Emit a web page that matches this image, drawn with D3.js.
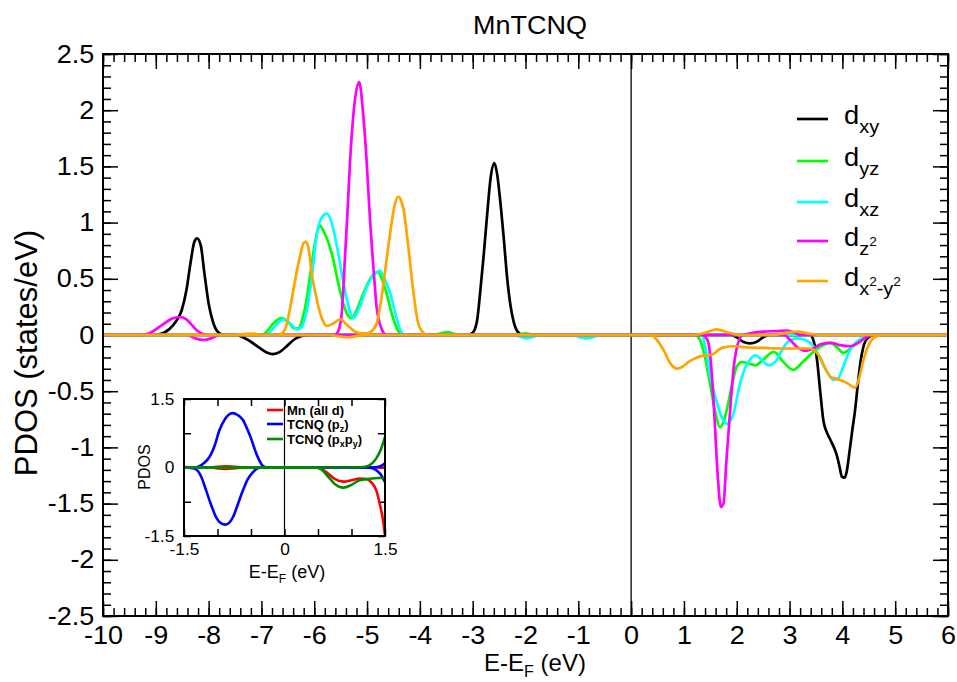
<!DOCTYPE html>
<html><head><meta charset="utf-8">
<script src="https://cdn.jsdelivr.net/npm/d3@7"></script>
<style>
body{margin:0;background:#fff}
svg{display:block}
text{font-family:"Liberation Sans",Arial,Helvetica,sans-serif;fill:#000}
</style>
</head><body>
<svg id="c" width="957" height="682"></svg>
<script>
// ---------- tick labels ----------
const xTicks = [-10,-9,-8,-7,-6,-5,-4,-3,-2,-1,0,1,2,3,4,5,6];
const yTicks = [-2.5,-2,-1.5,-1,-0.5,0,0.5,1,1.5,2,2.5];
const insetXTicks = [-1.5,-1,-0.5,0,0.5,1,1.5];
const insetXLabels = [-1.5,0,1.5];
const insetYTicks = [-1.5,-0.75,0,0.75,1.5];
const insetYLabels = [-1.5,0,1.5];

// ---------- series (E - E_F [eV], PDOS [states/eV]) ----------
const seriesNames = ["dxy","dyz","dxz","dz2","dx2y2"];
const seriesColors = ["#000000","#00ff00","#00ffff","#ff00ff","#ffa500"];

const dxyUp = [[-10,0],[-9.05,0],[-8.9,0.01],[-8.75,0.05],[-8.62,0.12],[-8.51,0.22],[-8.42,0.4],[-8.34,0.65],[-8.27,0.83],[-8.22,0.86],[-8.15,0.8],[-8.08,0.55],[-8.0,0.28],[-7.92,0.12],[-7.83,0.03],[-7.7,0],[-3.1,0],[-3.0,0.02],[-2.92,0.12],[-2.86,0.37],[-2.79,0.72],[-2.73,1.05],[-2.66,1.4],[-2.59,1.53],[-2.54,1.44],[-2.48,1.2],[-2.41,0.85],[-2.35,0.52],[-2.28,0.25],[-2.22,0.11],[-2.15,0.03],[-2.05,0],[6,0]];
const dxyDown = [[-10,0],[-7.5,0],[-7.35,-0.02],[-7.2,-0.06],[-7.05,-0.11],[-6.9,-0.155],[-6.78,-0.17],[-6.65,-0.15],[-6.5,-0.09],[-6.38,-0.04],[-6.25,-0.01],[-6.1,0],[1.88,0],[2.0,-0.02],[2.12,-0.06],[2.25,-0.075],[2.38,-0.06],[2.5,-0.02],[2.63,0],[3.39,0],[3.46,-0.06],[3.52,-0.22],[3.58,-0.5],[3.64,-0.76],[3.7,-0.86],[3.77,-0.93],[3.84,-1.0],[3.9,-1.08],[3.95,-1.18],[3.99,-1.26],[4.04,-1.27],[4.08,-1.22],[4.14,-1.02],[4.19,-0.84],[4.24,-0.67],[4.29,-0.45],[4.34,-0.25],[4.39,-0.12],[4.43,-0.06],[4.53,-0.01],[4.62,0],[6,0]];

const dyzUp = [[-10,0],[-7.0,0],[-6.9,0.03],[-6.78,0.1],[-6.62,0.15],[-6.48,0.11],[-6.38,0.06],[-6.3,0.06],[-6.22,0.15],[-6.15,0.3],[-6.08,0.52],[-6.0,0.78],[-5.93,0.94],[-5.89,0.97],[-5.82,0.92],[-5.73,0.82],[-5.64,0.67],[-5.55,0.47],[-5.45,0.28],[-5.37,0.18],[-5.29,0.15],[-5.2,0.22],[-5.07,0.37],[-4.95,0.49],[-4.85,0.55],[-4.79,0.56],[-4.72,0.5],[-4.63,0.37],[-4.55,0.22],[-4.47,0.1],[-4.4,0.03],[-4.3,0],[-3.75,0],[-3.6,0.015],[-3.48,0.025],[-3.35,0.01],[-3.2,0],[-2.15,0],[-2.0,0.015],[-1.85,0],[6,0]];
const dyzDown = [[-10,0],[1.2,0],[1.3,-0.04],[1.4,-0.2],[1.5,-0.45],[1.6,-0.7],[1.68,-0.82],[1.76,-0.76],[1.85,-0.58],[1.93,-0.4],[2.0,-0.28],[2.1,-0.24],[2.2,-0.25],[2.35,-0.27],[2.5,-0.22],[2.7,-0.15],[2.9,-0.25],[3.07,-0.31],[3.25,-0.24],[3.45,-0.15],[3.6,-0.1],[3.77,-0.07],[3.9,-0.11],[4.02,-0.16],[4.15,-0.12],[4.3,-0.06],[4.45,-0.01],[4.55,0],[6,0]];

const dxzUp = [[-10,0],[-6.95,0],[-6.85,0.02],[-6.72,0.09],[-6.58,0.14],[-6.45,0.1],[-6.32,0.05],[-6.24,0.07],[-6.15,0.2],[-6.05,0.5],[-5.95,0.9],[-5.85,1.05],[-5.76,1.08],[-5.67,1.0],[-5.57,0.79],[-5.48,0.55],[-5.38,0.31],[-5.3,0.18],[-5.26,0.15],[-5.15,0.24],[-5.0,0.43],[-4.88,0.53],[-4.75,0.57],[-4.66,0.49],[-4.56,0.37],[-4.48,0.22],[-4.41,0.1],[-4.32,0.01],[-4.2,0],[6,0]];
const dxzDown = [[-10,0],[-2.25,0],[-2.1,-0.015],[-1.97,-0.03],[-1.85,-0.015],[-1.7,0],[-1.1,0],[-0.97,-0.02],[-0.85,-0.03],[-0.72,-0.02],[-0.6,0],[1.34,0],[1.42,-0.15],[1.5,-0.37],[1.6,-0.56],[1.69,-0.7],[1.76,-0.77],[1.81,-0.79],[1.87,-0.77],[1.94,-0.7],[2.02,-0.52],[2.1,-0.37],[2.18,-0.27],[2.25,-0.22],[2.35,-0.18],[2.47,-0.22],[2.6,-0.27],[2.76,-0.22],[2.85,-0.14],[2.95,-0.07],[3.14,-0.03],[3.27,-0.04],[3.45,-0.1],[3.55,-0.18],[3.64,-0.27],[3.74,-0.35],[3.83,-0.4],[3.93,-0.38],[4.01,-0.29],[4.09,-0.19],[4.18,-0.11],[4.27,-0.06],[4.46,-0.01],[4.58,0],[6,0]];

const dz2Up = [[-10,0],[-9.3,0],[-9.15,0.01],[-9.0,0.05],[-8.85,0.1],[-8.7,0.145],[-8.55,0.16],[-8.42,0.14],[-8.32,0.09],[-8.22,0.04],[-8.12,0.01],[-8.0,0],[-5.62,0],[-5.55,0.03],[-5.48,0.19],[-5.42,0.67],[-5.37,1.1],[-5.32,1.56],[-5.24,2.05],[-5.15,2.25],[-5.08,2.0],[-5.01,1.56],[-4.96,1.15],[-4.91,0.79],[-4.86,0.48],[-4.82,0.25],[-4.77,0.12],[-4.72,0.05],[-4.64,0],[2.1,0],[2.3,0.02],[2.5,0.03],[2.75,0.035],[2.95,0.04],[3.1,0.02],[3.2,0],[6,0]];
const dz2Down = [[-10,0],[-8.4,0],[-8.25,-0.03],[-8.1,-0.045],[-7.95,-0.03],[-7.8,0],[1.35,0],[1.45,-0.05],[1.52,-0.3],[1.58,-0.75],[1.64,-1.25],[1.7,-1.53],[1.75,-1.5],[1.8,-1.15],[1.87,-0.7],[1.94,-0.3],[2.02,-0.08],[2.12,0],[2.9,0],[3.0,-0.04],[3.15,-0.11],[3.3,-0.14],[3.45,-0.12],[3.6,-0.08],[3.78,-0.07],[3.95,-0.09],[4.15,-0.1],[4.3,-0.07],[4.45,-0.02],[4.6,0],[6,0]];

const dx2y2Up = [[-10,0],[-7.5,0],[-7.3,0.01],[-7.15,0.012],[-7.0,0],[-6.7,0],[-6.6,0.02],[-6.52,0.1],[-6.43,0.31],[-6.35,0.52],[-6.27,0.7],[-6.2,0.82],[-6.16,0.83],[-6.1,0.75],[-6.05,0.55],[-5.98,0.38],[-5.92,0.25],[-5.84,0.13],[-5.76,0.08],[-5.65,0.1],[-5.51,0.14],[-5.38,0.09],[-5.26,0.04],[-5.12,0.015],[-5.0,0.015],[-4.9,0.04],[-4.82,0.1],[-4.72,0.35],[-4.63,0.67],[-4.55,0.95],[-4.47,1.17],[-4.41,1.23],[-4.36,1.2],[-4.31,1.12],[-4.22,0.79],[-4.12,0.37],[-4.03,0.1],[-3.95,0.03],[-3.88,0],[1.2,0],[1.4,0.02],[1.62,0.05],[1.85,0.02],[2.05,0],[2.7,0],[2.9,0.015],[3.14,0.03],[3.4,0.01],[3.6,0],[6,0]];
const dx2y2Down = [[-10,0],[-5.7,0],[-5.5,-0.015],[-5.35,-0.02],[-5.2,-0.01],[-5.05,0],[0.36,0],[0.48,-0.04],[0.61,-0.13],[0.74,-0.25],[0.87,-0.3],[0.98,-0.28],[1.09,-0.24],[1.2,-0.21],[1.31,-0.19],[1.45,-0.18],[1.56,-0.17],[1.66,-0.13],[1.75,-0.11],[1.94,-0.1],[2.19,-0.11],[2.5,-0.115],[2.82,-0.12],[3.1,-0.12],[3.39,-0.12],[3.5,-0.15],[3.58,-0.2],[3.67,-0.29],[3.77,-0.37],[3.96,-0.4],[4.1,-0.43],[4.24,-0.47],[4.32,-0.38],[4.4,-0.22],[4.47,-0.12],[4.53,-0.06],[4.65,-0.01],[4.78,0],[6,0]];

// ---------- inset series ----------
const insetNames = ["Mn (all d)","TCNQ (pz)","TCNQ (pxpy)"];
const insetColors = ["#ff0000","#0000ff","#008b00"];
const mnUp = [[-1.5,0],[-1.1,0],[-1.0,0.015],[-0.88,0.025],[-0.75,0.015],[-0.6,0],[1.5,0]];
const mnDown = [[-1.5,0],[-1.1,0],[-1.0,-0.02],[-0.88,-0.03],[-0.75,-0.02],[-0.6,0],[0.45,0],[0.55,-0.03],[0.65,-0.13],[0.75,-0.25],[0.88,-0.31],[1.0,-0.28],[1.12,-0.24],[1.22,-0.25],[1.3,-0.33],[1.37,-0.5],[1.43,-0.85],[1.47,-1.15],[1.5,-1.5]];
const pzUp = [[-1.5,0.01],[-1.35,0],[-1.27,0.03],[-1.2,0.1],[-1.12,0.23],[-1.05,0.45],[-0.97,0.82],[-0.88,1.08],[-0.82,1.17],[-0.77,1.19],[-0.7,1.15],[-0.62,1.04],[-0.55,0.82],[-0.49,0.6],[-0.44,0.38],[-0.39,0.2],[-0.32,0.03],[-0.25,0],[1.3,0],[1.42,0.02],[1.5,0.09]];
const pzDown = [[-1.5,0],[-1.4,-0.01],[-1.32,-0.04],[-1.25,-0.18],[-1.17,-0.5],[-1.1,-0.8],[-1.02,-1.09],[-0.95,-1.22],[-0.88,-1.25],[-0.82,-1.2],[-0.77,-1.09],[-0.7,-0.82],[-0.62,-0.5],[-0.55,-0.26],[-0.47,-0.1],[-0.4,-0.02],[-0.33,0],[1.25,0],[1.35,-0.04],[1.43,-0.14],[1.5,-0.32]];
const pxyUp = [[-1.5,0],[1.1,0],[1.18,0.01],[1.28,0.06],[1.37,0.2],[1.44,0.4],[1.5,0.67]];
const pxyDown = [[-1.5,0],[0.45,0],[0.55,-0.04],[0.65,-0.2],[0.75,-0.36],[0.88,-0.44],[1.0,-0.38],[1.12,-0.28],[1.25,-0.25],[1.4,-0.23],[1.5,-0.23]];

// ---------- drawing ----------
const FONT = '"Liberation Sans",Arial,Helvetica,sans-serif';
const STRETCH = "scale(1.08,1)";
const svg = d3.select("#c");
svg.append("rect").attr("width",957).attr("height",682).attr("fill","#fff");

const x = d3.scaleLinear().domain([-10,6]).range([103,948]);
const y = d3.scaleLinear().domain([-2.5,2.5]).range([616,54]);

function styleAxis(g, size, stretch){
  g.attr("font-size", size).attr("font-family", FONT);
  g.select(".domain").remove();
  g.selectAll("line").attr("stroke","#000").attr("stroke-width",1.5);
  g.selectAll("text").attr("fill","#000");
  if (stretch) g.selectAll("text").attr("transform", stretch);
}

const fmt = d => String(d);
const xMinor = d3.range(-10, 6.001, 0.2).map(v => +v.toFixed(2));
const yMinor = d3.range(-2.5, 2.501, 0.1).map(v => +v.toFixed(2));

const axes = svg.append("g");
// bottom
axes.append("g").attr("transform",`translate(0,${y(-2.5)})`)
  .call(d3.axisBottom(x).tickValues(xMinor).tickSize(-8).tickFormat(""))
  .call(g=>styleAxis(g,25));
axes.append("g").attr("transform",`translate(0,${y(-2.5)})`)
  .call(d3.axisBottom(x).tickValues(xTicks).tickSize(-15).tickPadding(10).tickFormat(fmt))
  .call(g=>styleAxis(g,25,STRETCH));
// top
axes.append("g").attr("transform",`translate(0,${y(2.5)})`)
  .call(d3.axisTop(x).tickValues(xMinor).tickSize(-8).tickFormat(""))
  .call(g=>styleAxis(g,25));
axes.append("g").attr("transform",`translate(0,${y(2.5)})`)
  .call(d3.axisTop(x).tickValues(xTicks).tickSize(-15).tickFormat(""))
  .call(g=>styleAxis(g,25));
// left
axes.append("g").attr("transform",`translate(${x(-10)},0)`)
  .call(d3.axisLeft(y).tickValues(yMinor).tickSize(-8).tickFormat(""))
  .call(g=>styleAxis(g,25));
axes.append("g").attr("transform",`translate(${x(-10)},0)`)
  .call(d3.axisLeft(y).tickValues(yTicks).tickSize(-15).tickPadding(8).tickFormat(fmt))
  .call(g=>styleAxis(g,25,STRETCH));
// right
axes.append("g").attr("transform",`translate(${x(6)},0)`)
  .call(d3.axisRight(y).tickValues(yMinor).tickSize(-8).tickFormat(""))
  .call(g=>styleAxis(g,25));
axes.append("g").attr("transform",`translate(${x(6)},0)`)
  .call(d3.axisRight(y).tickValues(yTicks).tickSize(-15).tickFormat(""))
  .call(g=>styleAxis(g,25));

// clip
svg.append("clipPath").attr("id","mainClip").append("rect")
  .attr("x",x(-10)).attr("y",y(2.5)).attr("width",x(6)-x(-10)).attr("height",y(-2.5)-y(2.5));

// vertical Fermi line
svg.append("line").attr("x1",x(0)).attr("x2",x(0)).attr("y1",y(2.5)).attr("y2",y(-2.5))
  .attr("stroke","#000").attr("stroke-width",1.3);

const line = d3.line().x(d=>x(d[0])).y(d=>y(d[1])).curve(d3.curveMonotoneX);
const mainSeries = [[dxyUp,dxyDown],[dyzUp,dyzDown],[dxzUp,dxzDown],[dz2Up,dz2Down],[dx2y2Up,dx2y2Down]];
const curves = svg.append("g").attr("clip-path","url(#mainClip)");
mainSeries.forEach((pair,i)=>{
  pair.forEach(data=>{
    curves.append("path").datum(data).attr("d",line)
      .attr("fill","none").attr("stroke",seriesColors[i]).attr("stroke-width",2.7)
      .attr("stroke-linejoin","round");
  });
});

// frame
svg.append("rect").attr("x",x(-10)).attr("y",y(2.5)).attr("width",x(6)-x(-10)).attr("height",y(-2.5)-y(2.5))
  .attr("fill","none").attr("stroke","#000").attr("stroke-width",2);

// title
svg.append("text").attr("x",530).attr("y",34).attr("text-anchor","middle")
  .attr("font-size",25).attr("font-family",FONT).attr("transform","translate(530,0) scale(1.08,1) translate(-530,0)")
  .text("MnTCNQ");

// axis titles
const xl = svg.append("text").attr("x",535).attr("y",671).attr("text-anchor","middle")
  .attr("font-size",24).attr("font-family",FONT);
xl.append("tspan").text("E-E");
xl.append("tspan").attr("font-size",16).attr("dy",6).text("F");
xl.append("tspan").attr("dy",-6).text(" (eV)");

svg.append("text").attr("transform","translate(37,353) rotate(-90)").attr("text-anchor","middle")
  .attr("font-size",31).attr("font-family",FONT).text("PDOS (states/eV)");

// legend
const legY = [119,161,202,241,281];
const leg = svg.append("g").attr("font-family",FONT);
seriesNames.forEach((n,i)=>{
  leg.append("line").attr("x1",797).attr("x2",828).attr("y1",legY[i]).attr("y2",legY[i])
    .attr("stroke",seriesColors[i]).attr("stroke-width",2.7);
  const t = leg.append("text").attr("x",844).attr("y",legY[i]+5).attr("font-size",26)
    .attr("transform",`translate(844,0) scale(1.05,1) translate(-844,0)`);
  t.append("tspan").text("d");
  if (n==="dxy"||n==="dyz"||n==="dxz"){
    t.append("tspan").attr("font-size",19).attr("dy",9).text(n.slice(1));
  } else if (n==="dz2"){
    t.append("tspan").attr("font-size",19).attr("dy",9).text("z");
    t.append("tspan").attr("font-size",13).attr("dy",-9).text("2");
  } else {
    t.append("tspan").attr("font-size",19).attr("dy",9).text("x");
    t.append("tspan").attr("font-size",13).attr("dy",-9).text("2");
    t.append("tspan").attr("font-size",19).attr("dy",9).text("-y");
    t.append("tspan").attr("font-size",13).attr("dy",-9).text("2");
  }
});

// ---------- inset ----------
const ix = d3.scaleLinear().domain([-1.5,1.5]).range([184,385]);
const iy = d3.scaleLinear().domain([-1.5,1.5]).range([536,399]);
const inset = svg.append("g");
inset.append("rect").attr("x",ix(-1.5)).attr("y",iy(1.5)).attr("width",ix(1.5)-ix(-1.5)).attr("height",iy(-1.5)-iy(1.5)).attr("fill","#fff");
const ifmt = d => insetXLabels.includes(d) ? String(d) : "";
const ifmtY = d => insetYLabels.includes(d) ? String(d) : "";
inset.append("g").attr("transform",`translate(0,${iy(-1.5)})`)
  .call(d3.axisBottom(ix).tickValues(insetXTicks).tickSize(-7).tickPadding(8).tickFormat(ifmt))
  .call(g=>styleAxis(g,16,STRETCH));
inset.append("g").attr("transform",`translate(0,${iy(1.5)})`)
  .call(d3.axisTop(ix).tickValues(insetXTicks).tickSize(-7).tickFormat(""))
  .call(g=>styleAxis(g,16));
inset.append("g").attr("transform",`translate(${ix(-1.5)},0)`)
  .call(d3.axisLeft(iy).tickValues(insetYTicks).tickSize(-7).tickPadding(9).tickFormat(ifmtY))
  .call(g=>styleAxis(g,16,STRETCH));
inset.append("g").attr("transform",`translate(${ix(1.5)},0)`)
  .call(d3.axisRight(iy).tickValues(insetYTicks).tickSize(-7).tickFormat(""))
  .call(g=>styleAxis(g,16));

svg.append("clipPath").attr("id","insetClip").append("rect")
  .attr("x",ix(-1.5)).attr("y",iy(1.5)).attr("width",ix(1.5)-ix(-1.5)).attr("height",iy(-1.5)-iy(1.5));
inset.append("line").attr("x1",ix(0)).attr("x2",ix(0)).attr("y1",iy(1.5)).attr("y2",iy(-1.5))
  .attr("stroke","#000").attr("stroke-width",1.2);
const iline = d3.line().x(d=>ix(d[0])).y(d=>iy(d[1])).curve(d3.curveMonotoneX);
const insetSeries = [[mnUp,mnDown],[pzUp,pzDown],[pxyUp,pxyDown]];
const ic = inset.append("g").attr("clip-path","url(#insetClip)");
insetSeries.forEach((pair,i)=>{
  pair.forEach(data=>{
    ic.append("path").datum(data).attr("d",iline).attr("fill","none")
      .attr("stroke",insetColors[i]).attr("stroke-width",2.6).attr("stroke-linejoin","round");
  });
});
inset.append("rect").attr("x",ix(-1.5)).attr("y",iy(1.5)).attr("width",ix(1.5)-ix(-1.5)).attr("height",iy(-1.5)-iy(1.5))
  .attr("fill","none").attr("stroke","#000").attr("stroke-width",2);

// inset axis titles
const ixl = inset.append("text").attr("x",287).attr("y",578).attr("text-anchor","middle")
  .attr("font-size",18).attr("font-family",FONT);
ixl.append("tspan").text("E-E");
ixl.append("tspan").attr("font-size",12).attr("dy",5).text("F");
ixl.append("tspan").attr("dy",-5).text(" (eV)");
inset.append("text").attr("transform","translate(150,467) rotate(-90)").attr("text-anchor","middle")
  .attr("font-size",16).attr("font-family",FONT).text("PDOS");

// inset legend
const ilegY = [410,424,439];
insetNames.forEach((n,i)=>{
  inset.append("line").attr("x1",267).attr("x2",283).attr("y1",ilegY[i]).attr("y2",ilegY[i])
    .attr("stroke",insetColors[i]).attr("stroke-width",2.6);
  const t = inset.append("text").attr("x",287).attr("y",ilegY[i]+4.5).attr("font-size",13)
    .attr("font-weight","bold").attr("font-family",FONT);
  if (i===0) t.text(n);
  else if (i===1){
    t.append("tspan").text("TCNQ (p");
    t.append("tspan").attr("font-size",9).attr("dy",3).text("z");
    t.append("tspan").attr("dy",-3).text(")");
  } else {
    t.append("tspan").text("TCNQ (p");
    t.append("tspan").attr("font-size",9).attr("dy",3).text("x");
    t.append("tspan").attr("dy",-3).text("p");
    t.append("tspan").attr("font-size",9).attr("dy",3).text("y");
    t.append("tspan").attr("dy",-3).text(")");
  }
});
</script>
</body></html>
